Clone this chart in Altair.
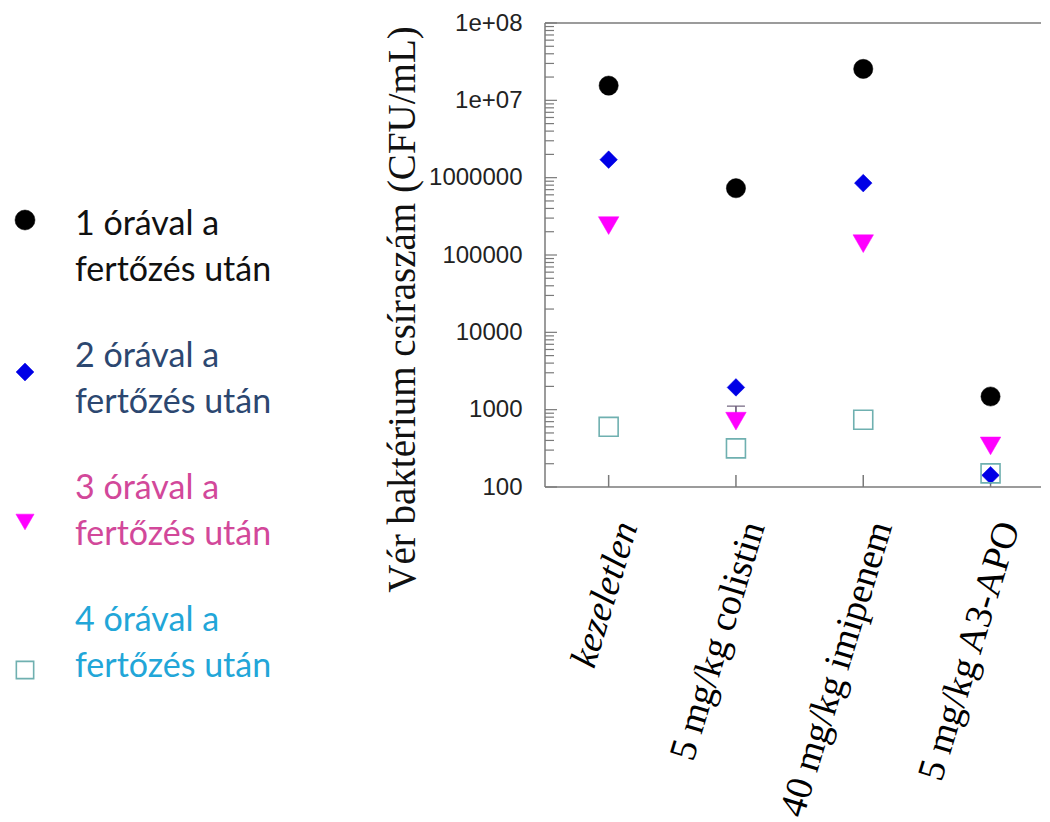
import json
import altair as alt
import pandas as pd

# ---------------- data ----------------
categories = ["kezeletlen", "5 mg/kg colistin", "40 mg/kg imipenem", "5 mg/kg A3-APO"]
series = ["1 óra", "2 óra", "3 óra", "4 óra"]
h1 = [1.55e7, 7.3e5, 2.55e7, 1.48e3]
h2 = [1.71e6, 1.94e3, 8.5e5, 1.42e2]
h3 = [2.4e5, 7.1e2, 1.4e5, 3.4e2]
h4 = [6.0e2, 3.16e2, 7.4e2, 1.5e2]
# small error bar (3 h, colistin)
err_cat = [1]
err_lo = [7.1e2]
err_hi = [1.11e3]

legend_line1 = ["1 órával a", "2 órával a", "3 órával a", "4 órával a"]
legend_line2 = ["fertőzés után"] * 4

y_ticks = [1e2, 1e3, 1e4, 1e5, 1e6, 1e7, 1e8]
y_tick_labels = ["100", "1000", "10000", "100000", "1000000", "1e+07", "1e+08"]
y_minor = [m * d for d in [1e2, 1e3, 1e4, 1e5, 1e6, 1e7] for m in range(2, 10)]

y_title = "Vér baktérium csíraszám (CFU/mL)"

# ---------------- styles ----------------
TOP_PAD = 3
W, H = 496, 464
STEP = 127.3
AXIS_COLOR = "#7a7a7a"
shapes = ["circle", "diamond", "triangle-down", "square"]
fills = ["#000000", "#0000e6", "#ff00ff", None]
strokes = ["#000000", "#0000e6", "#ff00ff", "#6fb0b0"]
sizes = [370, 310, 420, 360]
legend_sizes = [400, 320, 330, 300]
legend_sym_dy = [-14.5, 5.5, 23.5, 39.5]
text_colors = ["#111111", "#2c4770", "#d2489a", "#22a6d8"]

series_values = [h1, h2, h3, h4]
rows = []
for s, vals in zip(series, series_values):
    for i, v in enumerate(vals):
        rows.append({"series": s, "i": i, "v": v})
pts = pd.DataFrame(rows)

xscale = alt.Scale(domain=[-0.5, -0.5 + W / STEP], nice=False, zero=False)
yscale = alt.Scale(type="log", domain=[1e2, 1e8], nice=False)

xaxis = alt.Axis(
    values=list(range(len(categories))),
    labelExpr=json.dumps(categories, ensure_ascii=False) + "[datum.value]",
    title=None, grid=False, ticks=False, domain=False,
    labelAngle=-73, labelAlign="right", labelBaseline="top", labelPadding=30,
    labelFont="Liberation Serif", labelFontSize=38, labelColor="#000000",
    labelLimit=500, labelOverlap=False, labelFlush=False,
    labelFontStyle={"condition": {"test": "datum.value == 0", "value": "italic"}, "value": "normal"},
)
yaxis = alt.Axis(
    values=y_ticks,
    labelExpr=json.dumps(y_tick_labels) + "[round(log(datum.value) / LN10) - 2]",
    title=y_title, grid=False, ticks=False, domain=False,
    labelFont="Liberation Sans", labelFontSize=24, labelColor="#222222",
    labelPadding=23, labelOverlap=False, labelFlush=False,
    titleFont="Liberation Serif", titleFontSize=39, titleFontWeight="normal",
    titleColor="#111111", titleAngle=-90, titleBaseline="middle",
    titleX=-143, titleY=289 - TOP_PAD,
)

X = alt.X("i:Q", scale=xscale, axis=xaxis)
Y = alt.Y("v:Q", scale=yscale, axis=yaxis)

one = alt.Data(values=[{"k": 1}])
frame_top = alt.Chart(one).mark_rule(color=AXIS_COLOR, strokeWidth=1.5).encode(
    x=alt.value(0), x2=alt.value(W), y=alt.value(0))
frame_left = alt.Chart(one).mark_rule(color=AXIS_COLOR, strokeWidth=1.5).encode(
    x=alt.value(0), y=alt.value(0), y2=alt.value(H))
frame_bottom = alt.Chart(one).mark_rule(color=AXIS_COLOR, strokeWidth=1.5).encode(
    x=alt.value(0), x2=alt.value(W), y=alt.value(H))

major = alt.Chart(pd.DataFrame({"v": y_ticks})).mark_rule(color=AXIS_COLOR, strokeWidth=1.2).encode(
    y=Y, x=alt.value(0), x2=alt.value(12))
minor = alt.Chart(pd.DataFrame({"v": y_minor})).mark_rule(color=AXIS_COLOR, strokeWidth=1.2).encode(
    y=Y, x=alt.value(0), x2=alt.value(9))
xticks = alt.Chart(pd.DataFrame({"i": list(range(len(categories)))})).mark_rule(
    color=AXIS_COLOR, strokeWidth=1.5).encode(x=X, y=alt.value(H), y2=alt.value(H - 12))

err_df = pd.DataFrame({"i": err_cat, "v": err_lo, "v2": err_hi})
err_rule = alt.Chart(err_df).mark_rule(color="#5a4a6a", strokeWidth=1.5).encode(
    x=X, y=Y, y2="v2:Q")
err_cap = alt.Chart(err_df).mark_tick(color="#5a4a6a", orient="horizontal", size=18, thickness=1.5).encode(
    x=X, y=alt.Y("v2:Q", scale=yscale, axis=yaxis))

point_layers = []
for k, s in enumerate(series):
    kw = dict(shape=shapes[k], size=sizes[k], opacity=1)
    if fills[k] is None:
        kw.update(filled=False, stroke=strokes[k], strokeWidth=1.6)
    else:
        kw.update(filled=True, fill=fills[k], stroke=strokes[k], strokeWidth=0.5)
    point_layers.append(
        alt.Chart(pts).transform_filter(alt.datum.series == s).mark_point(**kw).encode(x=X, y=Y)
    )

main = alt.layer(
    frame_top, frame_left, frame_bottom, major, minor, xticks, err_rule, err_cap, *point_layers
).properties(width=W, height=H)

# ---------------- legend panel ----------------
leg_df = pd.DataFrame({
    "series": series,
    "row": list(range(len(series))),
    "label": [a + "\n" + b for a, b in zip(legend_line1, legend_line2)],
})
LH = 660
L0 = -(223 - 8.5 - TOP_PAD) / 132
lscale = alt.Scale(domain=[L0, L0 + LH / 132], reverse=True, nice=False, zero=False)
LY = alt.Y("row:Q", scale=lscale, axis=None)

leg_text = alt.Chart(leg_df).mark_text(
    align="left", baseline="alphabetic", font="Lato", fontSize=34,
    lineBreak="\n", lineHeight=46, x=67,
).encode(
    y=LY, text="label:N",
    color=alt.Color("series:N", scale=alt.Scale(domain=series, range=text_colors), legend=None),
)
leg_syms = []
for k, s in enumerate(series):
    kw = dict(shape=shapes[k], size=legend_sizes[k], opacity=1, x=17, yOffset=legend_sym_dy[k])
    if fills[k] is None:
        kw.update(filled=False, stroke=strokes[k], strokeWidth=1.6)
    else:
        kw.update(filled=True, fill=fills[k], stroke=strokes[k], strokeWidth=0.5)
    leg_syms.append(alt.Chart(leg_df).transform_filter(alt.datum.series == s).mark_point(**kw).encode(y=LY))

legend = alt.layer(leg_text, *leg_syms).properties(width=282, height=LH)

chart = alt.hconcat(legend, main, spacing=93).properties(
    padding={"top": TOP_PAD, "left": 0, "right": 0, "bottom": 0}
).configure_view(stroke=None)

chart.save("out.html", embed_options={"renderer": "svg", "actions": False})
